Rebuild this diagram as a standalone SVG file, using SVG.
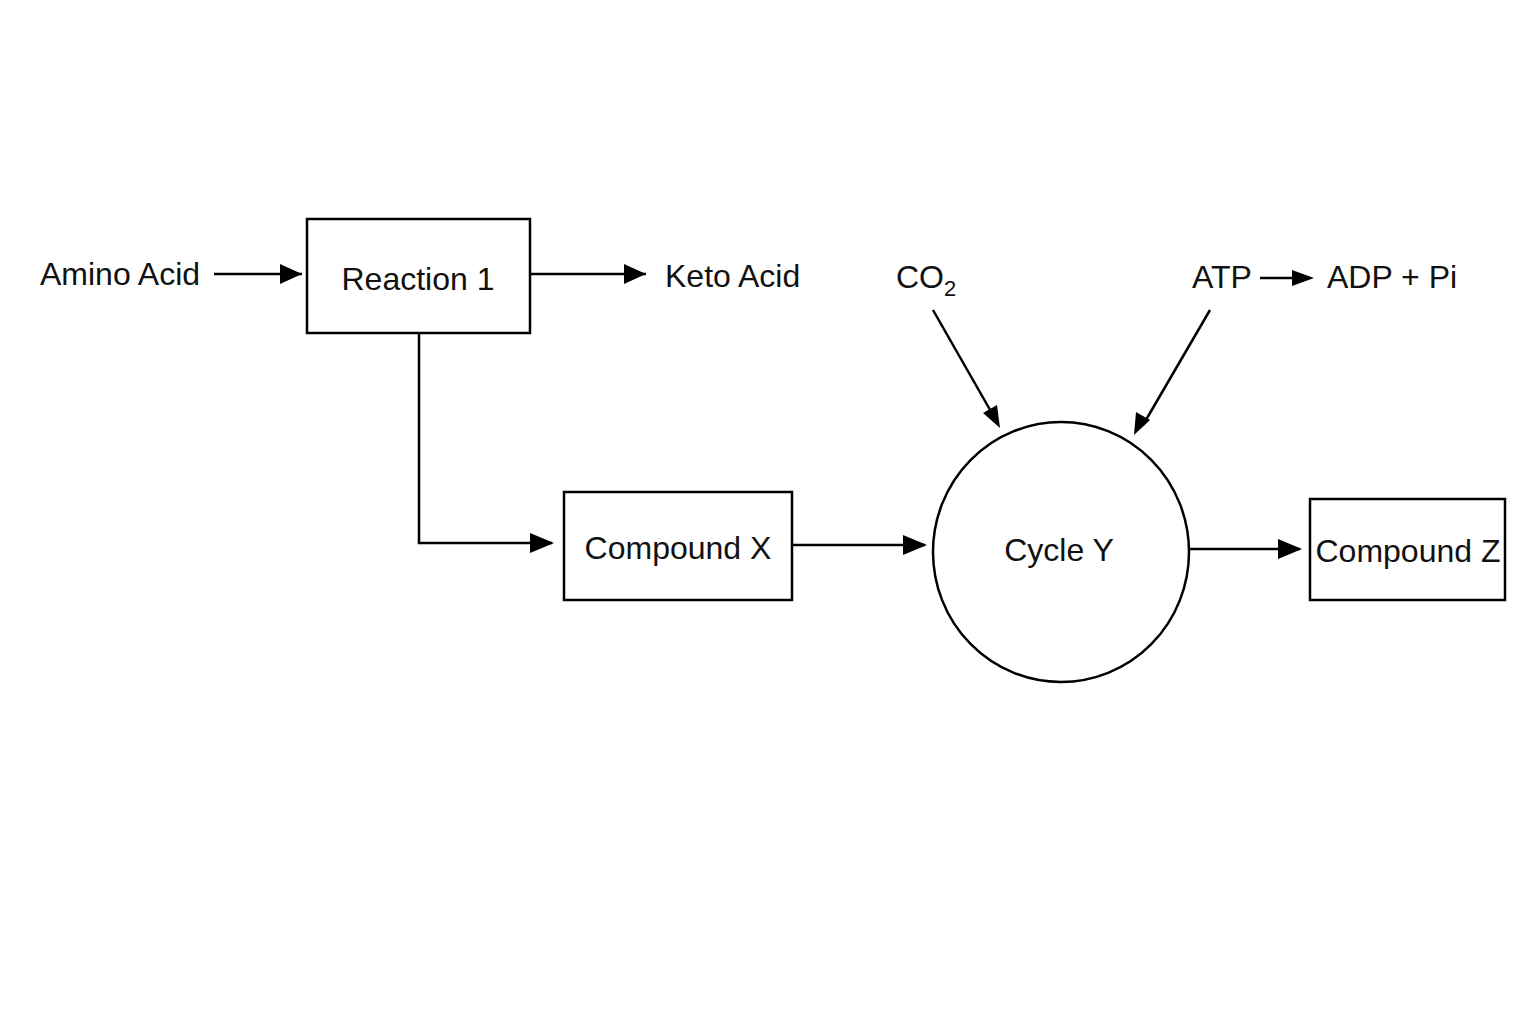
<svg xmlns="http://www.w3.org/2000/svg" width="1536" height="1024" viewBox="0 0 1536 1024">
<style>
.n{fill:#fff;stroke:#000;stroke-width:2.5}
.t{font-family:"Liberation Sans",Arial,sans-serif;font-size:32px;fill:#111}
.c{fill:none;stroke:#000;stroke-width:2.5;marker-end:url(#a)}
</style>
<defs><marker id="a" markerWidth="10" markerHeight="8" refX="9" refY="4" orient="auto" markerUnits="userSpaceOnUse" viewBox="0 0 10 8"><path d="M0,0L10,4L0,8z"/></marker></defs>
<rect width="1536" height="1024" fill="#fff"/>
<g id="connectors">
<path class="c" d="M214,274H302" style="marker-end:none"/><path d="M280,264L302,274L280,284z"/>
<path class="c" d="M531,274H646" style="marker-end:none"/><path d="M624,264L646,274L624,284z"/>
<path class="c" d="M419,334V543H552" style="marker-end:none"/><path d="M530,533L554,543L530,553z"/>
<path class="c" d="M793,545H925" style="marker-end:none"/><path d="M903,535L927,545L903,555z"/>
<path class="c" d="M1190,549H1300" style="marker-end:none"/><path d="M1278,539L1302,549L1278,559z"/>
<path class="c" d="M933,310L993,415" style="marker-end:none"/><path d="M983,413L1000,428L997,405z"/>
<path class="c" d="M1210,310L1143,425" style="marker-end:none"/><path d="M1136,412L1134,435L1150,420z"/>
<path class="c" d="M1260,278H1310" style="marker-end:none"/><path d="M1292,270L1314,278L1292,286z"/>
</g>
<g id="amino"><text class="t" x="40" y="285">Amino Acid</text></g>
<g id="r1"><rect class="n" x="307" y="219" width="223" height="114"/><text class="t" x="418" y="290" text-anchor="middle">Reaction 1</text></g>
<g id="keto"><text class="t" x="665" y="287">Keto Acid</text></g>
<g id="co2"><text class="t" x="896" y="288">CO<tspan font-size="22" dy="8">2</tspan></text></g>
<g id="atp"><text class="t" x="1192" y="288">ATP</text></g>
<g id="adp"><text class="t" x="1327" y="288">ADP + Pi</text></g>
<g id="x"><rect class="n" x="564" y="492" width="228" height="108"/><text class="t" x="678" y="559" text-anchor="middle">Compound X</text></g>
<g id="y"><ellipse class="n" cx="1061" cy="552" rx="128" ry="130"/><text class="t" x="1059" y="561" text-anchor="middle">Cycle Y</text></g>
<g id="z"><rect class="n" x="1310" y="499" width="195" height="101"/><text class="t" x="1408" y="562" text-anchor="middle">Compound Z</text></g>
</svg>
